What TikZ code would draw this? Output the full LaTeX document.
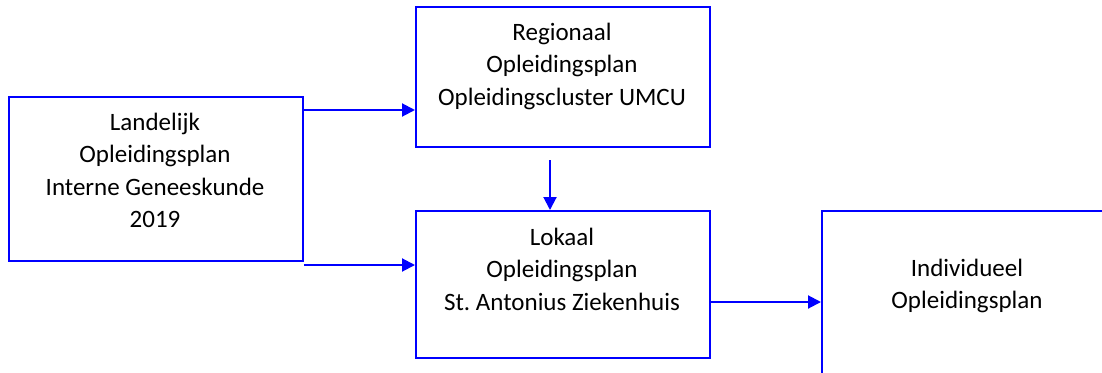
\documentclass[tikz,border=0pt]{standalone}
\usepackage{fontspec}
\setmainfont{Carlito}
\usetikzlibrary{arrows.meta}
\definecolor{diagblue}{RGB}{0,0,255}
\begin{document}
\begin{tikzpicture}[x=1pt,y=-1pt,
  box/.style={draw=diagblue, line width=2pt, inner sep=0pt, anchor=north west},
  lbl/.style={align=center, font={\fontsize{25}{32.5}\selectfont}, inner sep=0pt, anchor=north, text=black},
  arr/.style={draw=diagblue, line width=2pt, -{Triangle[length=13pt,width=13pt]}}]
\clip (0,0) rectangle (1102,372);
\fill[white] (0,0) rectangle (1102,372);
% boxes
\node[box, minimum width=294pt, minimum height=164pt] (land) at (8,96) {};
\node[box, minimum width=294pt, minimum height=140pt] (reg) at (415,6) {};
\node[box, minimum width=294pt, minimum height=147pt] (lok) at (415,210) {};
\node[box, minimum width=320pt, minimum height=200pt] (ind) at (821,210) {};
% labels
\node[lbl] (landt) at (155,112.5) {Landelijk\\Opleidingsplan\\Interne Geneeskunde\\2019};
\node[lbl] (regt) at (562,22.5) {Regionaal\\Opleidingsplan\\Opleidingscluster UMCU};
\node[lbl] (lokt) at (562,227.5) {Lokaal\\Opleidingsplan\\St.\ Antonius Ziekenhuis};
\node[lbl] (indt) at (967,258.5) {Individueel\\Opleidingsplan};
% connectors
\coordinate (y1) at (0,110);
\coordinate (y2) at (0,265);
\coordinate (y4) at (0,302);
\coordinate (a3s) at (550,160);
\draw[arr] (land.east |- y1) -- (reg.west |- y1);
\draw[arr] (land.east |- y2) -- (lok.west |- y2);
\draw[arr] (a3s) -- (a3s |- lok.north);
\draw[arr] (lok.east |- y4) -- (ind.west |- y4);
\end{tikzpicture}
\end{document}
